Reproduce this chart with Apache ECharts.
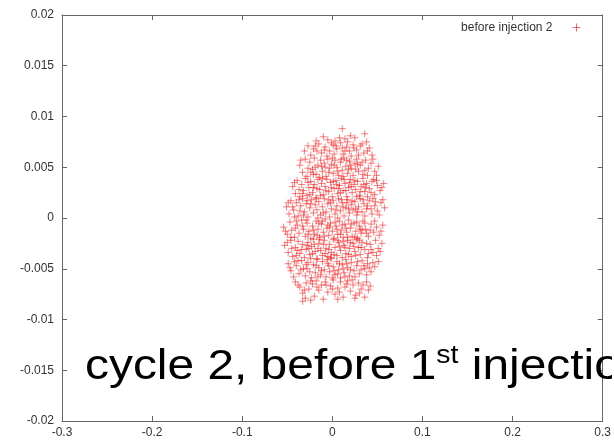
<!DOCTYPE html>
<html><head><meta charset="utf-8">
<script src="https://cdn.jsdelivr.net/npm/echarts@6/dist/echarts.min.js"></script>
<style>html,body{margin:0;padding:0;background:#fff}#c{width:614px;height:441px}</style>
</head><body><div id="c"></div>
<script>
const seriesName = 'before injection 2';
const xRange = [-0.3, 0.3];
const yRange = [-0.02, 0.02];
const beforeInjection2 = [
[0.011,0.0088],[-0.010,0.0080],[0.036,0.0083],[0.038,0.0075],[-0.005,0.0077],[0.003,0.0076],[0.014,0.0078],[0.025,0.0079],[-0.018,0.0076],[0.020,0.0081],[0.008,0.0079],
[-0.027,0.0071],[-0.021,0.0068],[-0.015,0.0073],[-0.012,0.0064],[-0.008,0.0070],[-0.003,0.0066],[0.001,0.0072],[0.005,0.0068],[0.009,0.0074],[0.012,0.0063],[0.016,0.0070],[0.019,0.0066],[0.023,0.0072],[0.027,0.0067],[0.031,0.0071],[0.035,0.0064],[0.041,0.0069],[-0.024,0.0062],[-0.006,0.0061],[0.002,0.0063],[0.021,0.0061],[0.029,0.0062],[-0.017,0.0066],[0.011,0.0069],[0.044,0.0062],[-0.001,0.0074],[0.017,0.0075],
[-0.036,0.0052],[-0.033,0.0045],[-0.030,0.0058],[-0.028,0.0041],[-0.025,0.0055],[-0.022,0.0048],[-0.020,0.0059],[-0.018,0.0043],[-0.016,0.0052],[-0.013,0.0057],[-0.011,0.0046],[-0.009,0.0054],[-0.007,0.0041],[-0.005,0.0058],[-0.003,0.0049],[-0.001,0.0053],[0.001,0.0044],[0.003,0.0057],[0.005,0.0050],[0.007,0.0042],[0.009,0.0055],[0.011,0.0047],[0.013,0.0059],[0.015,0.0051],[0.017,0.0044],[0.019,0.0056],[0.021,0.0049],[0.023,0.0042],[0.025,0.0054],[0.027,0.0058],[0.029,0.0046],[0.031,0.0052],[0.034,0.0043],[0.037,0.0057],[0.040,0.0049],[0.043,0.0054],[0.047,0.0046],[0.051,0.0051],[-0.014,0.0040],[0.000,0.0059],[0.012,0.0041],[0.020,0.0052],[-0.024,0.0045],[0.033,0.0055],[-0.008,0.0050],[0.006,0.0046],[0.016,0.0057],[0.039,0.0042],[-0.019,0.0050],[0.026,0.0048],
[-0.044,0.0031],[-0.041,0.0024],[-0.039,0.0037],[-0.036,0.0021],[-0.034,0.0033],[-0.032,0.0027],[-0.030,0.0039],[-0.028,0.0022],[-0.026,0.0030],[-0.024,0.0036],[-0.022,0.0025],[-0.020,0.0033],[-0.018,0.0020],[-0.016,0.0038],[-0.014,0.0028],[-0.012,0.0034],[-0.010,0.0023],[-0.008,0.0031],[-0.006,0.0038],[-0.004,0.0026],[-0.002,0.0035],[0.000,0.0021],[0.002,0.0029],[0.004,0.0037],[0.006,0.0024],[0.008,0.0032],[0.010,0.0039],[0.012,0.0027],[0.014,0.0034],[0.016,0.0021],[0.018,0.0030],[0.020,0.0038],[0.022,0.0025],[0.024,0.0033],[0.026,0.0028],[0.028,0.0036],[0.030,0.0022],[0.032,0.0031],[0.034,0.0039],[0.036,0.0026],[0.038,0.0034],[0.041,0.0029],[0.044,0.0036],[0.047,0.0023],[0.050,0.0032],[0.053,0.0027],[0.057,0.0034],[-0.037,0.0028],[-0.025,0.0023],[-0.011,0.0039],[-0.001,0.0030],[0.009,0.0025],[0.019,0.0035],[0.027,0.0021],[0.035,0.0033],[0.046,0.0038],[-0.017,0.0029],[0.005,0.0033],[0.015,0.0027],[0.039,0.0021],
[-0.051,0.0011],[-0.048,0.0004],[-0.046,0.0017],[-0.043,0.0008],[-0.040,0.0015],[-0.038,0.0002],[-0.035,0.0012],[-0.033,0.0019],[-0.031,0.0006],[-0.029,0.0014],[-0.027,0.0001],[-0.025,0.0010],[-0.023,0.0018],[-0.021,0.0005],[-0.019,0.0013],[-0.017,0.0008],[-0.015,0.0016],[-0.013,0.0003],[-0.011,0.0011],[-0.009,0.0019],[-0.007,0.0006],[-0.005,0.0014],[-0.003,0.0001],[-0.001,0.0009],[0.001,0.0017],[0.003,0.0004],[0.005,0.0012],[0.007,0.0019],[0.009,0.0007],[0.011,0.0015],[0.013,0.0002],[0.015,0.0010],[0.017,0.0018],[0.019,0.0005],[0.021,0.0013],[0.023,0.0008],[0.025,0.0016],[0.027,0.0003],[0.029,0.0011],[0.031,0.0019],[0.033,0.0006],[0.035,0.0014],[0.038,0.0009],[0.041,0.0017],[0.044,0.0004],[0.047,0.0012],[0.050,0.0007],[0.054,0.0015],[0.058,0.0010],[-0.042,0.0001],[-0.028,0.0017],[-0.016,0.0000],[-0.004,0.0018],[0.006,0.0000],[0.016,0.0015],[0.026,0.0009],[0.036,0.0002],[0.045,0.0019],[-0.036,0.0007],[0.012,0.0011],
[-0.054,-0.0009],[-0.050,-0.0016],[-0.047,-0.0004],[-0.045,-0.0012],[-0.042,-0.0019],[-0.039,-0.0007],[-0.037,-0.0015],[-0.034,-0.0002],[-0.032,-0.0011],[-0.030,-0.0018],[-0.028,-0.0005],[-0.026,-0.0013],[-0.024,-0.0020],[-0.022,-0.0008],[-0.020,-0.0016],[-0.018,-0.0003],[-0.016,-0.0011],[-0.014,-0.0019],[-0.012,-0.0006],[-0.010,-0.0014],[-0.008,-0.0001],[-0.006,-0.0010],[-0.004,-0.0017],[-0.002,-0.0005],[0.000,-0.0013],[0.002,-0.0020],[0.004,-0.0008],[0.006,-0.0016],[0.008,-0.0003],[0.010,-0.0012],[0.012,-0.0019],[0.014,-0.0006],[0.016,-0.0014],[0.018,-0.0002],[0.020,-0.0010],[0.022,-0.0018],[0.024,-0.0005],[0.026,-0.0013],[0.028,-0.0020],[0.030,-0.0008],[0.032,-0.0015],[0.034,-0.0003],[0.037,-0.0011],[0.040,-0.0018],[0.043,-0.0006],[0.046,-0.0014],[0.049,-0.0009],[0.052,-0.0017],[0.056,-0.0007],[-0.041,-0.0010],[-0.029,-0.0002],[-0.017,-0.0017],[-0.005,-0.0007],[0.005,-0.0011],[0.017,-0.0019],[0.027,-0.0004],[0.038,-0.0015],[-0.011,-0.0003],[0.011,-0.0007],[0.033,-0.0012],
[-0.053,-0.0027],[-0.049,-0.0034],[-0.046,-0.0022],[-0.044,-0.0038],[-0.041,-0.0029],[-0.038,-0.0023],[-0.036,-0.0035],[-0.033,-0.0026],[-0.031,-0.0039],[-0.029,-0.0031],[-0.027,-0.0024],[-0.025,-0.0036],[-0.023,-0.0028],[-0.021,-0.0021],[-0.019,-0.0033],[-0.017,-0.0040],[-0.015,-0.0025],[-0.013,-0.0032],[-0.011,-0.0037],[-0.009,-0.0022],[-0.007,-0.0030],[-0.005,-0.0038],[-0.003,-0.0026],[-0.001,-0.0034],[0.001,-0.0021],[0.003,-0.0029],[0.005,-0.0037],[0.007,-0.0024],[0.009,-0.0032],[0.011,-0.0039],[0.013,-0.0027],[0.015,-0.0035],[0.017,-0.0022],[0.019,-0.0030],[0.021,-0.0038],[0.023,-0.0025],[0.025,-0.0033],[0.027,-0.0021],[0.029,-0.0029],[0.031,-0.0036],[0.033,-0.0024],[0.036,-0.0031],[0.039,-0.0039],[0.042,-0.0026],[0.045,-0.0034],[0.048,-0.0022],[0.051,-0.0030],[0.055,-0.0025],[-0.039,-0.0032],[-0.026,-0.0030],[-0.014,-0.0021],[-0.002,-0.0039],[0.008,-0.0028],[0.018,-0.0036],[0.030,-0.0022],[0.040,-0.0035],[-0.020,-0.0026],[0.012,-0.0023],[-0.008,-0.0035],[0.024,-0.0028],
[-0.049,-0.0045],[-0.046,-0.0052],[-0.043,-0.0058],[-0.040,-0.0047],[-0.037,-0.0055],[-0.034,-0.0042],[-0.032,-0.0050],[-0.030,-0.0057],[-0.027,-0.0044],[-0.025,-0.0053],[-0.023,-0.0059],[-0.021,-0.0046],[-0.019,-0.0054],[-0.017,-0.0041],[-0.015,-0.0049],[-0.013,-0.0056],[-0.011,-0.0043],[-0.009,-0.0051],[-0.007,-0.0058],[-0.005,-0.0045],[-0.003,-0.0053],[-0.001,-0.0040],[0.001,-0.0048],[0.003,-0.0056],[0.005,-0.0043],[0.007,-0.0051],[0.009,-0.0059],[0.011,-0.0046],[0.013,-0.0054],[0.015,-0.0041],[0.017,-0.0049],[0.019,-0.0057],[0.021,-0.0044],[0.024,-0.0052],[0.027,-0.0047],[0.030,-0.0055],[0.033,-0.0042],[0.036,-0.0050],[0.039,-0.0045],[0.043,-0.0053],[0.047,-0.0048],[0.051,-0.0043],[-0.028,-0.0050],[-0.016,-0.0058],[-0.004,-0.0047],[0.006,-0.0055],[0.016,-0.0045],[0.025,-0.0058],[0.035,-0.0047],[-0.038,-0.0042],[0.000,-0.0059],[0.012,-0.0050],
[-0.041,-0.0063],[-0.036,-0.0068],[-0.033,-0.0074],[-0.029,-0.0064],[-0.026,-0.0070],[-0.022,-0.0065],[-0.020,-0.0077],[-0.018,-0.0062],[-0.015,-0.0071],[-0.012,-0.0066],[-0.010,-0.0080],[-0.008,-0.0063],[-0.005,-0.0073],[-0.002,-0.0067],[0.001,-0.0061],[0.003,-0.0075],[0.006,-0.0069],[0.009,-0.0063],[0.012,-0.0078],[0.014,-0.0068],[0.017,-0.0062],[0.020,-0.0072],[0.023,-0.0066],[0.026,-0.0076],[0.029,-0.0064],[0.032,-0.0070],[0.036,-0.0078],[0.038,-0.0063],[0.042,-0.0067],[-0.033,-0.0082],[-0.030,-0.0079],[-0.024,-0.0081],[0.006,-0.0080],[0.025,-0.0079],
[-0.031,0.0066],[-0.019,0.0071],[-0.009,0.0067],[0.004,0.0071],[0.014,0.0066],[0.024,0.0069],[0.033,0.0073],[0.039,0.0066],
[-0.035,0.0057],[-0.027,0.0049],[-0.021,0.0043],[-0.012,0.0051],[-0.004,0.0045],[0.002,0.0052],[0.010,0.0058],[0.018,0.0048],[0.028,0.0053],[0.036,0.0047],[0.045,0.0058],[0.049,0.0042],
[-0.042,0.0035],[-0.033,0.0024],[-0.027,0.0035],[-0.021,0.0030],[-0.013,0.0022],[-0.007,0.0027],[0.001,0.0036],[0.007,0.0029],[0.013,0.0038],[0.021,0.0031],[0.025,0.0037],[0.031,0.0026],[0.037,0.0030],[0.043,0.0025],[0.049,0.0037],[0.055,0.0030],
[-0.049,0.0015],[-0.044,0.0011],[-0.037,0.0018],[-0.032,0.0003],[-0.024,0.0014],[-0.018,0.0019],[-0.010,0.0005],[-0.002,0.0015],[0.004,0.0008],[0.010,0.0018],[0.018,0.0009],[0.022,0.0017],[0.028,0.0006],[0.034,0.0018],[0.039,0.0012],[0.043,0.0009],[0.048,0.0016],[0.052,0.0003],[0.056,0.0018],
[-0.052,-0.0013],[-0.046,-0.0019],[-0.040,-0.0003],[-0.033,-0.0008],[-0.027,-0.0016],[-0.021,-0.0012],[-0.015,-0.0005],[-0.009,-0.0018],[-0.003,-0.0009],[0.003,-0.0004],[0.009,-0.0016],[0.015,-0.0010],[0.021,-0.0006],[0.025,-0.0019],[0.031,-0.0011],[0.036,-0.0005],[0.042,-0.0012],[0.047,-0.0003],[0.054,-0.0013],
[-0.050,-0.0024],[-0.045,-0.0030],[-0.040,-0.0037],[-0.034,-0.0031],[-0.028,-0.0027],[-0.022,-0.0035],[-0.016,-0.0030],[-0.010,-0.0026],[-0.004,-0.0031],[0.002,-0.0036],[0.006,-0.0022],[0.014,-0.0029],[0.020,-0.0024],[0.026,-0.0037],[0.032,-0.0029],[0.038,-0.0025],[0.043,-0.0031],[0.049,-0.0037],[0.053,-0.0033],
[-0.047,-0.0049],[-0.042,-0.0043],[-0.035,-0.0051],[-0.029,-0.0046],[-0.024,-0.0040],[-0.018,-0.0047],[-0.012,-0.0052],[-0.006,-0.0041],[0.002,-0.0052],[0.008,-0.0045],[0.014,-0.0058],[0.020,-0.0051],[0.028,-0.0043],[0.032,-0.0051],[0.038,-0.0056],[0.041,-0.0049],[0.045,-0.0044],
[-0.038,-0.0066],[-0.031,-0.0071],[-0.024,-0.0062],[-0.017,-0.0068],[-0.007,-0.0066],[0.000,-0.0070],[0.008,-0.0073],[0.016,-0.0065],[0.022,-0.0061],[0.030,-0.0074],[0.034,-0.0066],[0.040,-0.0071]
];
const overlayMain = 'cycle 2, before 1';
const overlaySup = 'st';
const overlayTail = ' injection';

const chart = echarts.init(document.getElementById('c'), null, {renderer: 'canvas'});
const axisColor = '#666';
const fam = '"Liberation Sans", Arial, sans-serif';
const labelFont = {color: '#333', fontSize: 12, fontFamily: fam};
const plus = 'path://M0,3.5H7M3.5,0V7';
function xa(pos, show) {
  return {type: 'value', position: pos, min: xRange[0], max: xRange[1], interval: 0.1,
    axisLine: {show: true, onZero: false, lineStyle: {color: axisColor, width: 1}},
    axisTick: {show: true, inside: true, length: 5, lineStyle: {color: axisColor}},
    axisLabel: Object.assign({show: show, margin: 6, showMaxLabel: true}, labelFont),
    splitLine: {show: false}};
}
function ya(pos, show) {
  return {type: 'value', position: pos, min: yRange[0], max: yRange[1], interval: 0.005,
    axisLine: {show: true, onZero: false, lineStyle: {color: axisColor, width: 1}},
    axisTick: {show: true, inside: true, length: 5, lineStyle: {color: axisColor}},
    axisLabel: Object.assign({show: show, margin: 8}, labelFont),
    splitLine: {show: false}};
}
chart.setOption({
  animation: false,
  backgroundColor: '#fff',
  tooltip: {show: false},
  grid: {left: 62, right: 3, top: 15, bottom: 20, containLabel: false},
  xAxis: [xa('bottom', true), xa('top', false)],
  yAxis: [ya('left', true), ya('right', false)],
  legend: {
    data: [{name: seriesName, icon: plus, itemStyle: {color: 'none', borderColor: 'rgba(255,0,0,0.6)', borderWidth: 1}}],
    right: 31, top: 21, padding: 0, align: 'right',
    itemWidth: 8, itemHeight: 8, selectedMode: false,
    textStyle: {color: '#333', fontSize: 12, fontFamily: fam, padding: [0, 15, 0, 0]}
  },
  series: [{
    name: seriesName, type: 'scatter', xAxisIndex: 0, yAxisIndex: 0,
    symbol: plus, symbolSize: 7, silent: true,
    itemStyle: {color: 'none', borderColor: 'rgba(255,0,0,0.5)', borderWidth: 1, opacity: 1},
    emphasis: {disabled: true},
    data: beforeInjection2
  }],
  graphic: [
    {type: 'text', z: 100, x: 85, y: 344, scaleX: 1.14, scaleY: 1,
      style: {
        text: '{a|' + overlayMain + '}{s|' + overlaySup + '}{a|' + overlayTail + '}',
        rich: {
          a: {fontSize: 42, fontFamily: fam, fill: '#000', verticalAlign: 'bottom', lineHeight: 44},
          s: {fontSize: 25, fontFamily: fam, fill: '#000', verticalAlign: 'top', lineHeight: 30}
        }
      }},
    {type: 'rect', z: 101, shape: {x: 612, y: 330, width: 4, height: 80}, style: {fill: '#fff'}}
  ]
});
</script></body></html>
